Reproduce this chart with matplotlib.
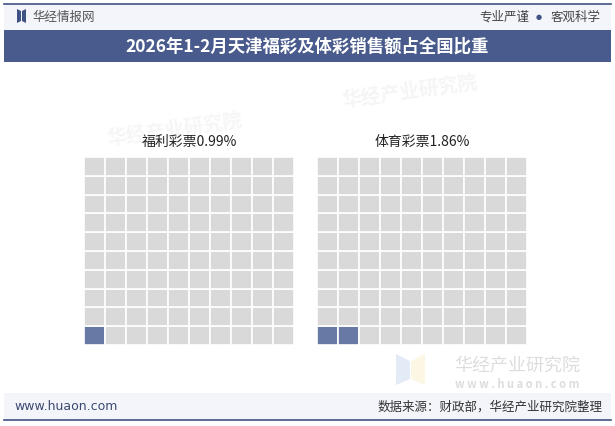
import matplotlib
matplotlib.use('Agg')
from matplotlib import pyplot as plt
from matplotlib.patches import Rectangle, Polygon

plt.rcParams['font.family'] = ['Noto Sans CJK SC', 'DejaVu Sans']

# 数据
categories = ['福利彩票', '体育彩票']
shares = [0.99, 1.86]  # 占全国比重 %
title = '2026年1-2月天津福彩及体彩销售额占全国比重'
source = '数据来源：财政部，华经产业研究院整理'

n_rows, n_cols = 10, 10
navy = '#485b8c'
fill_color = '#6879a5'
empty_color = '#d9d9d9'

fig = plt.figure(figsize=(6.15, 4.27), dpi=100)

# 背景装饰层, 像素坐标
bg = fig.add_axes([0, 0, 1, 1])
bg.set_xlim(0, 615)
bg.set_ylim(427, 0)
bg.axis('off')

bg.add_patch(Rectangle((4, 5), 607, 27, color='#f3f5fa', lw=0))
bg.plot([4, 611], [5, 5], color='#3e5283', lw=1.2)
bg.add_patch(Rectangle((4, 31), 607, 32, color=navy, lw=0))
bg.text(307, 47, title, color='white', fontsize=12.5, fontweight='bold',
        ha='center', va='center')

# logo
bg.add_patch(Polygon([(17, 10), (21, 12), (21, 22), (17, 24)], color='#3e5283', lw=0))
bg.add_patch(Polygon([(26, 10), (22, 12), (22, 22), (26, 24)], color='#3e5283', lw=0))
bg.text(32, 17, '华经情报网', color='#555555', fontsize=9, ha='left', va='center')
bg.text(601, 17, '客观科学', color='#444444', fontsize=9, ha='right', va='center')
bg.text(539, 17, '●', color='#3e5283', fontsize=5, ha='center', va='center',
        family='DejaVu Sans')
bg.text(529, 17, '专业严谨', color='#444444', fontsize=9, ha='right', va='center')

# 页脚
bg.add_patch(Rectangle((4, 394), 607, 27, color='#f3f5fa', lw=0))
bg.plot([4, 611], [421, 421], color='#3e5283', lw=1.2)
bg.text(14, 407, 'www.huaon.com', color='#3c4a70', fontsize=9,
        ha='left', va='center', family='DejaVu Sans')
bg.text(603, 407, source, color='#333333', fontsize=9, ha='right', va='center')

# 水印
bg.text(517, 366, '华经产业研究院', color='#cfcfcf', fontsize=13,
        ha='center', va='center', alpha=0.7)
bg.text(517, 385, 'w w w . h u a o n . c o m', color='#cfcfcf', fontsize=8,
        ha='center', va='center', fontweight='bold', alpha=0.7)
bg.add_patch(Polygon([(396, 355), (410, 362), (410, 380), (396, 386)],
                     color='#e3ebf7', lw=0))
bg.add_patch(Polygon([(425, 355), (411, 362), (411, 380), (425, 386)],
                     color='#fcf6e4', lw=0))
bg.text(410, 92, '华经产业研究院', color='#f5f5f5', fontsize=14,
        ha='center', va='center', rotation=8, fontweight='bold')
bg.text(175, 130, '华经产业研究院', color='#f6f6f6', fontsize=14,
        ha='center', va='center', rotation=8, fontweight='bold')

# 华夫图
positions = [84, 317]
for left, name, val in zip(positions, categories, shares):
    ax = fig.add_axes([left / 615, (427 - 346) / 427, 210 / 615, 188 / 427])
    n_fill = int(round(val))
    k = 0
    for r in range(n_rows):
        for c in range(n_cols):
            col = fill_color if k < n_fill else empty_color
            ax.bar(c, 1, bottom=r, width=1, align='edge', color=col,
                   edgecolor='white', linewidth=1.2)
            k += 1
    ax.set_xlim(0, n_cols)
    ax.set_ylim(0, n_rows)
    ax.axis('off')
    bg.text(left + 105, 142, f'{name}{val:.2f}%', color='#222222',
            fontsize=10, ha='center', va='center')

fig.savefig('out.png', dpi=100)
